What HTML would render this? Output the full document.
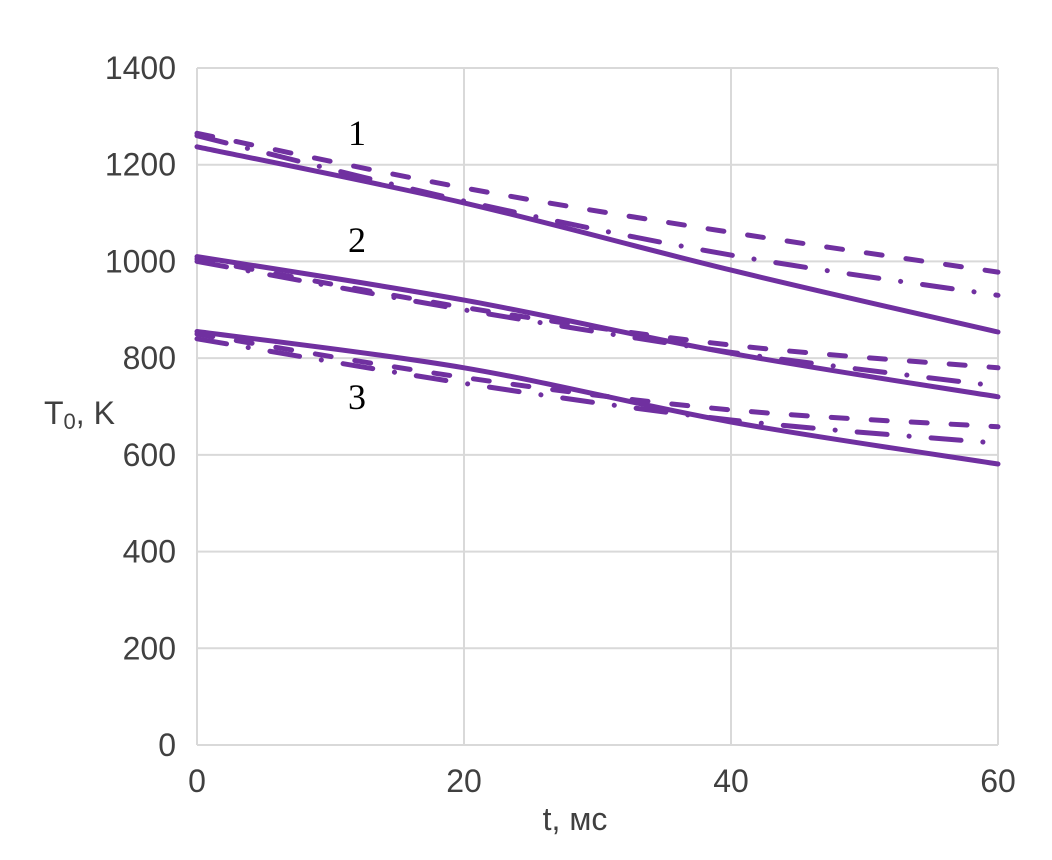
<!DOCTYPE html>
<html><head><meta charset="utf-8"><style>
body{margin:0;background:#fff;width:1052px;height:860px;overflow:hidden}
svg{display:block}
</style></head><body>
<svg id="chart" width="1052" height="860" xmlns="http://www.w3.org/2000/svg" font-family="Liberation Sans, sans-serif">
<g id="grid"></g><g id="series"></g><g id="ticks"></g>
<text x="44" y="424" font-size="32" fill="#404040">T<tspan font-size="22" dy="5">0</tspan><tspan dy="-5">, K</tspan></text>
<text x="575" y="830" font-size="32" fill="#404040" text-anchor="middle">t, мс</text>
<text x="357" y="145" font-size="36" font-family="Liberation Serif, serif" text-anchor="middle">1</text>
<text x="357" y="252" font-size="36" font-family="Liberation Serif, serif" text-anchor="middle">2</text>
<text x="357" y="409" font-size="36" font-family="Liberation Serif, serif" text-anchor="middle">3</text>
</svg>
<script>
const tValues=[0,20,40,60];
const g1Solid=[1237,1121,982,854];
const g1Dash=[1265,1152,1060,978];
const g1DashDot=[1260,1125,1013,930];
const g2Solid=[1010,920,810,720];
const g2Dash=[1005,905,827,780];
const g2DashDot=[1000,900,812,742];
const g3Solid=[855,780,668,581];
const g3Dash=[850,760,693,658];
const g3DashDot=[840,748,672,624];
const yTicks=[0,200,400,600,800,1000,1200,1400];
const xTicks=[0,20,40,60];
const X0=197,X1=998,Y0=745,Y1=68;
const xs=t=>X0+(t/60)*(X1-X0);
const ys=v=>Y0-(v/1400)*(Y0-Y1);
const NS="http://www.w3.org/2000/svg";
const grid=document.getElementById('grid'),ticks=document.getElementById('ticks'),ser=document.getElementById('series');
yTicks.forEach(v=>{
 const l=document.createElementNS(NS,'line');
 
 
 l.setAttribute('x1',X0);l.setAttribute('x2',X1);l.setAttribute('y1',ys(v));l.setAttribute('y2',ys(v));
 l.setAttribute('stroke','#d9d9d9');l.setAttribute('stroke-width','2');grid.appendChild(l);
 const t=document.createElementNS(NS,'text');
 
 
 t.setAttribute('x',176);t.setAttribute('y',ys(v)+11);t.setAttribute('text-anchor','end');
 t.setAttribute('font-size','32');t.setAttribute('fill','#404040');t.textContent=v;ticks.appendChild(t);
});
xTicks.forEach(v=>{
 const l=document.createElementNS(NS,'line');
 
 
 l.setAttribute('x1',xs(v));l.setAttribute('x2',xs(v));l.setAttribute('y1',Y1);l.setAttribute('y2',Y0);
 l.setAttribute('stroke','#d9d9d9');l.setAttribute('stroke-width','2');grid.appendChild(l);
 const t=document.createElementNS(NS,'text');
 
 
 t.setAttribute('x',xs(v));t.setAttribute('y',792);t.setAttribute('text-anchor','middle');
 t.setAttribute('font-size','32');t.setAttribute('fill','#404040');t.textContent=v;ticks.appendChild(t);
});
function draw(vals,dash,name){
 const p=document.createElementNS(NS,'path');
 
 
 let d='M'+xs(tValues[0]).toFixed(1)+' '+ys(vals[0]).toFixed(1);
 for(let i=1;i<tValues.length;i++){
  const p0=i>1?vals[i-2]:vals[i-1],p1=vals[i-1],p2=vals[i],p3=i<vals.length-1?vals[i+1]:vals[i];
  const t0=i>1?tValues[i-2]:tValues[i-1],t1=tValues[i-1],t2=tValues[i],t3=i<vals.length-1?tValues[i+1]:tValues[i];
  const c1x=xs(t1+(t2-t0)/6),c1y=ys(p1+(p2-p0)/6),c2x=xs(t2-(t3-t1)/6),c2y=ys(p2-(p3-p1)/6);
  d+=' C'+c1x.toFixed(1)+' '+c1y.toFixed(1)+' '+c2x.toFixed(1)+' '+c2y.toFixed(1)+' '+xs(t2).toFixed(1)+' '+ys(p2).toFixed(1);
 }
 p.setAttribute('d',d);p.setAttribute('fill','none');p.setAttribute('stroke','#7030a0');
 p.setAttribute('stroke-width','5');p.setAttribute('stroke-linecap','round');
 if(dash)p.setAttribute('stroke-dasharray',dash);ser.appendChild(p);
}
const dashP='16 24',ddP='30 22 0.1 22';
draw(g1Solid,null,'series-1-solid');draw(g1Dash,dashP,'series-1-dashed');draw(g1DashDot,ddP,'series-1-dashdot');
draw(g2Solid,null,'series-2-solid');draw(g2Dash,dashP,'series-2-dashed');draw(g2DashDot,ddP,'series-2-dashdot');
draw(g3Solid,null,'series-3-solid');draw(g3Dash,dashP,'series-3-dashed');draw(g3DashDot,ddP,'series-3-dashdot');
</script>
</body></html>
